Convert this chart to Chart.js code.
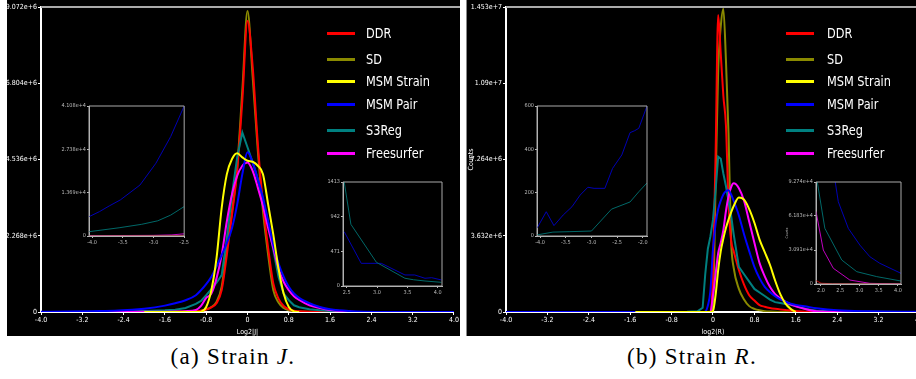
<!DOCTYPE html>
<html>
<head>
<meta charset="utf-8">
<script src="https://cdn.jsdelivr.net/npm/chart.js@4.4.1/dist/chart.umd.min.js"></script>
<style>
  body { margin: 0; width: 916px; height: 379px; overflow: hidden; background: #fff; position: relative; }
  .panel { position: absolute; top: 0; height: 336px; background: #000; }
  .box { position: absolute; }
  .leg { position: absolute; height: 3px; width: 28px; }
  .legtxt { position: absolute; color: #fff; font: 14px 'DejaVu Sans Condensed', 'DejaVu Sans', sans-serif;
            line-height: 16px; white-space: nowrap; transform: scaleX(0.9); transform-origin: left center; }
  .cap { position: absolute; top: 344px; text-align: center; font: 23px 'Liberation Serif', serif; color: #000; letter-spacing: 1.3px; }
</style>
</head>
<body>
<div class="panel" style="left:7px;width:453px"><canvas id="mainJ" width="453" height="336"></canvas></div>
<div class="panel" style="left:467px;width:459px;border-left:1px solid #888;margin-left:-1px"><canvas id="mainR" width="459" height="336"></canvas></div>
<div class="box" style="left:60px;top:100px"><canvas id="insJ1" width="130" height="150"></canvas></div>
<div class="box" style="left:325px;top:176px"><canvas id="insJ2" width="120" height="124"></canvas></div>
<div class="box" style="left:515px;top:100px"><canvas id="insR1" width="135" height="150"></canvas></div>
<div class="box" style="left:785px;top:176px"><canvas id="insR2" width="120" height="124"></canvas></div>
<div class="cap" style="left:0;width:466px">(a) Strain <i>J</i>.</div>
<div class="cap" style="left:462px;width:460px">(b) Strain <i>R</i>.</div>
<script>
const FONT = "'DejaVu Sans Condensed', 'DejaVu Sans', sans-serif";
const names = ['DDR', 'SD', 'MSM Strain', 'MSM Pair', 'S3Reg', 'Freesurfer'];
const colors = ['#ff0000', '#8a8a00', '#ffff00', '#0000ff', '#008080', '#ff00ff'];
const insetColors = ['#c00000', '#6a6a00', '#c0c000', '#0000b4', '#006868', '#c000c0'];
const drawOrder = [4, 5, 0, 1, 3, 2];

const xTicksMain = [-4, -3.2, -2.4, -1.6, -0.8, 0, 0.8, 1.6, 2.4, 3.2, 4];
const xLabelsMain = ['-4.0', '-3.2', '-2.4', '-1.6', '-0.8', '0', '0.8', '1.6', '2.4', '3.2', '4.0'];

// (a) strain J, main histogram
const xJ = [-4.0, -3.5, -3.0, -2.5, -2.0, -1.6, -1.4, -1.2, -1.0, -0.9, -0.8, -0.7, -0.6, -0.5, -0.4, -0.3, -0.2, -0.1,
  0.0, 0.1, 0.2, 0.3, 0.4, 0.5, 0.6, 0.7, 0.8, 0.9, 1.0, 1.2, 1.4, 1.6, 2.0, 2.5, 3.0, 3.5, 4.0];
const ddrJ = [null, null, null, null, 0, 2e3, 5e3, 1e4, 2e4, 3.5e4, 7e4, 1.4e5, 2.6e5, 6.5e5, 1.7e6, 2.9e6, 4.2e6, 6.3e6,
  8.66e6, 7.3e6, 5.0e6, 3.2e6, 1.9e6, 8.5e5, 4e5, 1.8e5, 8e4, 3.5e4, 2e4, 8e3, 3e3, 1e3, 0, null, null, null, null];
const sdJ = [null, null, null, null, 1e3, 3e3, 6e3, 1.2e4, 2.5e4, 4e4, 8e4, 1.5e5, 3e5, 7.5e5, 1.9e6, 3.0e6, 4.3e6, 6.6e6,
  8.95e6, 7.0e6, 4.8e6, 3.0e6, 1.7e6, 6.5e5, 2.8e5, 1.2e5, 5e4, 2.5e4, 1.2e4, 5e3, 2e3, 1e3, 0, null, null, null, null];
const msmStrainJ = [null, null, null, null, 0, 0, 0, 0, 0, 1e4, 1.5e5, 6.5e5, 1.6e6, 3.1e6, 4.1e6, 4.55e6, 4.72e6, 4.6e6,
  4.5e6, 4.47e6, 4.35e6, 4.1e6, 3.2e6, 2.3e6, 1.3e6, 5.5e5, 1.5e5, 2e4, 0, null, null, null, null, null, null, null, null];
const msmPairJ = [6.1e3, 1.15e4, 2.3e4, 4.1e4, 1.0e5, 1.9e5, 2.6e5, 3.5e5, 5.0e5, 6.5e5, 8.3e5, 1.05e6, 1.35e6, 1.7e6, 2.05e6, 2.5e6, 3.2e6, 4.1e6,
  4.75e6, 4.45e6, 3.95e6, 3.4e6, 2.7e6, 2.0e6, 1.45e6, 1.05e6, 7.5e5, 5.5e5, 4.2e5, 2.6e5, 1.5e5, 8e4, 2.5e4, 700, 300, 150, 80];
const s3regJ = [1.36e3, 2.6e3, 4.6e3, 9.3e3, 3e4, 5e4, 7e4, 1.2e5, 2.4e5, 3.3e5, 5e5, 6.8e5, 8.7e5, 1.1e6, 2.2e6, 3.5e6, 4.6e6, 5.34e6,
  4.9e6, 4.45e6, 3.95e6, 3.35e6, 2.65e6, 1.85e6, 1.05e6, 5.5e5, 3.5e5, 2e5, 1.4e5, 8e4, 5e4, 3e4, 8e3, 1.3e3, 320, 100, 40];
const freesurferJ = [100, 100, 200, 700, 5e3, 1e4, 1.5e4, 2.5e4, 6e4, 1.8e5, 4.2e5, 5.5e5, 1.0e6, 1.7e6, 2.7e6, 3.5e6, 4.05e6, 4.35e6,
  4.45e6, 4.2e6, 3.7e6, 3.15e6, 2.5e6, 1.9e6, 1.3e6, 9e5, 6.5e5, 4.7e5, 3.6e5, 2e5, 1.2e5, 6e4, 1e4, 0, 0, 0, 0];
const yTicksJ = [0, 2.268e6, 4.536e6, 6.804e6, 9.072e6];
const yLabelsJ = ['0', '2.268e+6', '4.536e+6', '6.804e+6', '9.072e+6'];

// (b) strain R, main histogram
const xR = [-4.0, -3.0, -2.0, -1.5, -1.0, -0.5, -0.3, -0.2, -0.15, -0.1, -0.05, 0.0, 0.05, 0.1, 0.15, 0.2, 0.25, 0.3, 0.35,
  0.4, 0.5, 0.6, 0.7, 0.8, 0.9, 1.0, 1.1, 1.2, 1.3, 1.4, 1.5, 1.6, 1.8, 2.0, 2.4, 3.0, 4.0];
const ddrR = [null, null, null, 0, 0, 0, 0, 0, 0, 0, 1e4, 2e6, 7.5e6, 14.15e6, 12.3e6, 10.3e6, 8.9e6, 5.2e6, 3.4e6,
  2.9e6, 2.0e6, 1.3e6, 8e5, 5.5e5, 3.3e5, 2.5e5, 1.9e5, 1.5e5, 1.2e5, 1e5, 7e4, 5e4, 1.5e4, 1e3, 0, 0, 0];
const sdR = [null, null, null, 0, 0, 0, 0, 0, 0, 0, 0, 5e5, 6e6, 11.5e6, 13.6e6, 14.45e6, 12e6, 8.5e6, 3.4e6,
  2.1e6, 1.1e6, 6e5, 2.8e5, 1.5e5, 8e4, 4e4, 2e4, 1e4, 5e3, 2e3, 1e3, 0, 0, 0, null, null, null];
const msmStrainR = [null, null, null, 0, 0, 0, 0, 0, 0, 0, 0, 5e4, 8e5, 2.0e6, 2.9e6, 3.5e6, 4.0e6, 4.4e6, 4.75e6,
  5.05e6, 5.45e6, 5.35e6, 4.9e6, 4.25e6, 3.45e6, 2.85e6, 2.25e6, 1.5e6, 8.5e5, 4e5, 1.5e5, 0, null, null, null, null, null];
const msmPairR = [0, 0, 0, 0, 0, 0, 0, 0, 2e4, 3e5, 1.0e6, 3.0e6, 4.2e6, 4.9e6, 5.3e6, 5.6e6, 5.75e6, 5.8e6, 5.6e6,
  5.3e6, 4.6e6, 3.7e6, 2.9e6, 2.15e6, 1.6e6, 1.2e6, 9.5e5, 7.5e5, 6e5, 4.9e5, 4e5, 3.4e5, 2.6e5, 1.8e5, 8e4, 3.5e4, 1e4];
const s3regR = [5, 23, 230, 2e3, 5e3, 1e4, 3e4, 2e5, 1.8e6, 3.0e6, 3.6e6, 4.4e6, 5.8e6, 7.4e6, 7.3e6, 6.6e6, 6.0e6, 5.3e6, 4.6e6,
  3.7e6, 2.15e6, 1.8e6, 1.45e6, 1.1e6, 9.3e5, 7.6e5, 5.9e5, 4.7e5, 4.3e5, 3.8e5, 3.4e5, 2.8e5, 1.4e5, 6e4, 2.3e4, 1.1e4, 3e3];
const freesurferR = [null, null, null, 0, 0, 0, 0, 0, 0, 0, 5e3, 8e5, 1.8e6, 2.8e6, 3.3e6, 3.9e6, 4.8e6, 5.5e6, 5.95e6,
  6.13e6, 5.9e6, 5.3e6, 4.3e6, 3.3e6, 2.33e6, 1.7e6, 1.2e6, 8.5e5, 6.5e5, 5e5, 3.6e5, 2.7e5, 1.3e5, 3e4, 8e3, 600, 0];
const yTicksR = [0, 3.632e6, 7.264e6, 1.09e7, 1.453e7];
const yLabelsR = ['0', '3.632e+6', '7.264e+6', '1.09e+7', '1.453e+7'];

// inset J1 (left tail of J)
const j1PairX = [-4.05, -3.88, -3.72, -3.54, -3.22, -2.96, -2.72, -2.5];
const j1PairY = [6100, 7700, 9500, 11400, 16100, 23000, 31400, 41080];
const j1S3X = [-4.05, -3.56, -3.19, -2.93, -2.72, -2.5];
const j1S3Y = [1360, 2600, 3700, 4800, 6600, 9300];
const j1FsX = [-4.05, -3.0, -2.7, -2.5];
const j1FsY = [100, 200, 350, 700];
const j1DdrX = [-4.05, -2.5];
const j1DdrY = [0, 60];
const j1XTicks = [-4, -3.5, -3, -2.5];
const j1XLabels = ['-4.0', '-3.5', '-3.0', '-2.5'];
const j1YTicks = [0, 13690, 27380, 41080];
const j1YLabels = ['0', '1.369e+4', '2.738e+4', '4.108e+4'];

// inset J2 (right tail of J)
const j2S3X = [2.46, 2.57, 2.99, 3.46, 3.6, 3.79, 4.06];
const j2S3Y = [1413, 838, 322, 105, 85, 68, 50];
const j2PairX = [2.46, 2.74, 3.07, 3.46, 3.62, 3.79, 3.9, 4.06];
const j2PairY = [738, 308, 308, 150, 150, 105, 113, 82];
const j2XTicks = [2.5, 3, 3.5, 4];
const j2XLabels = ['2.5', '3.0', '3.5', '4.0'];
const j2YTicks = [0, 471, 942, 1413];
const j2YLabels = ['0', '471', '942', '1413'];

// inset R1 (left tail of R)
const r1PairX = [-4.06, -3.88, -3.73, -3.55, -3.38, -3.22, -3.07, -2.95, -2.74, -2.59, -2.41, -2.25, -2.16, -2.08, -1.92];
const r1PairY = [36, 112, 48, 97, 135, 189, 225, 220, 220, 312, 374, 477, 486, 497, 600];
const r1S3X = [-4.06, -3.75, -3.42, -3.0, -2.61, -2.25, -2.08, -1.92];
const r1S3Y = [5, 18, 20, 23, 124, 157, 204, 245];
const r1XTicks = [-4, -3.5, -3, -2.5, -2];
const r1XLabels = ['-4.0', '-3.5', '-3.0', '-2.5', '-2.0'];
const r1YTicks = [0, 200, 400, 600];
const r1YLabels = ['0', '200', '400', '600'];

// inset R2 (right tail of R)
const r2PairX = [2.25, 2.45, 2.71, 3.01, 3.27, 3.53, 4.08];
const r2PairY = [120000, 74800, 50600, 35400, 24800, 18800, 9700];
const r2S3X = [1.87, 2.1, 2.54, 2.93, 3.45, 4.08];
const r2S3Y = [100000, 50600, 21800, 11200, 6700, 2700];
const r2FsX = [1.87, 2.06, 2.32, 2.75, 3.27, 4.08];
const r2FsY = [66000, 30900, 14300, 3600, 600, 0];
const r2DdrX = [1.87, 2.0, 2.3, 4.08];
const r2DdrY = [3200, 700, 200, 0];
const r2XTicks = [2, 2.5, 3, 3.5, 4];
const r2XLabels = ['2.0', '2.5', '3.0', '3.5', '4.0'];
const r2YTicks = [0, 30910, 61830, 92740];
const r2YLabels = ['0', '3.091e+4', '6.183e+4', '9.274e+4'];

function pts(xs, ys) {
  return xs.map((x, i) => ({ x: x, y: ys[i] }));
}

const frame = {
  id: 'frame',
  afterDraw(chart, args, opts) {
    const ctx = chart.ctx;
    const a = chart.chartArea;
    ctx.save();
    ctx.strokeStyle = opts.color;
    ctx.lineWidth = opts.width;
    ctx.beginPath();
    if (opts.box) {
      ctx.rect(a.left, a.top, a.right - a.left, a.bottom - a.top);
    } else {
      ctx.moveTo(a.left, a.top);
      ctx.lineTo(chart.width, a.top);
    }
    ctx.stroke();
    ctx.restore();
  }
};

function axisOpts(min, max, ticks, labels, size, fontSize, tickLen, color, lineW, title) {
  return {
    type: 'linear', min: min, max: max,
    afterBuildTicks: a => { a.ticks = ticks.map(v => ({ value: v })); },
    afterFit: a => { if (a.isHorizontal()) a.height = size; else a.width = size; },
    ticks: { color: color, font: { family: FONT, size: fontSize }, padding: 1, maxRotation: 0, autoSkip: false,
             callback: (v, i) => labels[i] },
    grid: { drawOnChartArea: false, color: color, tickLength: tickLen, tickWidth: 1 },
    border: { color: color, width: lineW },
    title: title ? { display: true, text: title.text, color: color, font: { family: FONT, size: title.size }, padding: 0 } : { display: false }
  };
}

function mainChart(id, xs, seriesList, yTicks, yLabels, xTitle, yTitle, axisW, padRight) {
  new Chart(document.getElementById(id), {
    type: 'line',
    data: {
      datasets: seriesList.map((ys, i) => ({
        label: names[i],
        data: pts(xs, ys),
        borderColor: colors[i],
        borderWidth: 2,
        pointRadius: 0,
        tension: 0,
        cubicInterpolationMode: i === 4 ? 'default' : 'monotone',
        order: drawOrder[i]
      }))
    },
    options: {
      responsive: false,
      animation: false,
      layout: { padding: { top: 7, right: padRight, left: 0, bottom: 0 } },
      plugins: { legend: { display: false }, tooltip: { enabled: false },
                 frame: { color: '#aaa', width: 2, box: false } },
      scales: {
        x: axisOpts(-4, 4, xTicksMain, xLabelsMain, 24, 7, 3, '#fff', 2, { text: xTitle, size: 7 }),
        y: axisOpts(0, yTicks[yTicks.length - 1], yTicks, yLabels, axisW, 7, 3, '#fff', 2, yTitle ? { text: yTitle, size: 7 } : null)
      }
    },
    plugins: [frame]
  });
}

function insetChart(id, series, xMin, xMax, xTicks, xLabels, yTicks, yLabels, axisW, axisH, padRight, yTitle) {
  new Chart(document.getElementById(id), {
    type: 'line',
    data: {
      datasets: series.map(s => ({
        data: pts(s.x, s.y),
        borderColor: insetColors[s.k],
        borderWidth: 1,
        pointRadius: 0,
        tension: 0
      }))
    },
    options: {
      responsive: false,
      animation: false,
      layout: { padding: { top: 6, right: padRight, left: 0, bottom: 0 } },
      plugins: { legend: { display: false }, tooltip: { enabled: false },
                 frame: { color: '#aaa', width: 1, box: true } },
      scales: {
        x: axisOpts(xMin, xMax, xTicks, xLabels, axisH, 5.5, 2, '#bbb', 1, null),
        y: axisOpts(0, yTicks[yTicks.length - 1], yTicks, yLabels, axisW, 5.5, 2, '#bbb', 1, yTitle ? { text: yTitle, size: 3.5 } : null)
      }
    },
    plugins: [frame]
  });
}

mainChart('mainJ', xJ, [ddrJ, sdJ, msmStrainJ, msmPairJ, s3regJ, freesurferJ], yTicksJ, yLabelsJ, 'Log2|J|', null, 34, 3);
mainChart('mainR', xR, [ddrR, sdR, msmStrainR, msmPairR, s3regR, freesurferR], yTicksR, yLabelsR, 'log2(R)', 'Counts', 39, 5);

insetChart('insJ1', [
  { x: j1DdrX, y: j1DdrY, k: 0 }, { x: j1FsX, y: j1FsY, k: 5 },
  { x: j1S3X, y: j1S3Y, k: 4 }, { x: j1PairX, y: j1PairY, k: 3 }
], -4.05, -2.5, j1XTicks, j1XLabels, j1YTicks, j1YLabels, 29, 14, 3, null);
insetChart('insJ2', [
  { x: j2S3X, y: j2S3Y, k: 4 }, { x: j2PairX, y: j2PairY, k: 3 }
], 2.44, 4.07, j2XTicks, j2XLabels, j2YTicks, j2YLabels, 18, 14, 3, null);
insetChart('insR1', [
  { x: r1S3X, y: r1S3Y, k: 4 }, { x: r1PairX, y: r1PairY, k: 3 }
], -4.06, -1.92, r1XTicks, r1XLabels, r1YTicks, r1YLabels, 22, 14, 3, null);
insetChart('insR2', [
  { x: r2DdrX, y: r2DdrY, k: 0 }, { x: r2FsX, y: r2FsY, k: 5 },
  { x: r2S3X, y: r2S3Y, k: 4 }, { x: r2PairX, y: r2PairY, k: 3 }
], 1.87, 4.08, r2XTicks, r2XLabels, r2YTicks, r2YLabels, 31, 16, 4, 'Counts');

// legends drawn as text over each panel
const legendRows = [33, 59, 81, 104, 130, 153];
[[327, 366], [786, 827]].forEach(([lx, tx]) => {
  names.forEach((n, i) => {
    const line = document.createElement('div');
    line.className = 'leg';
    line.style.left = lx + 'px';
    line.style.top = (legendRows[i] - 1.5) + 'px';
    line.style.background = colors[i];
    document.body.appendChild(line);
    const t = document.createElement('div');
    t.className = 'legtxt';
    t.style.left = tx + 'px';
    t.style.top = (legendRows[i] - 8) + 'px';
    t.textContent = n;
    document.body.appendChild(t);
  });
});
</script>
</body>
</html>
